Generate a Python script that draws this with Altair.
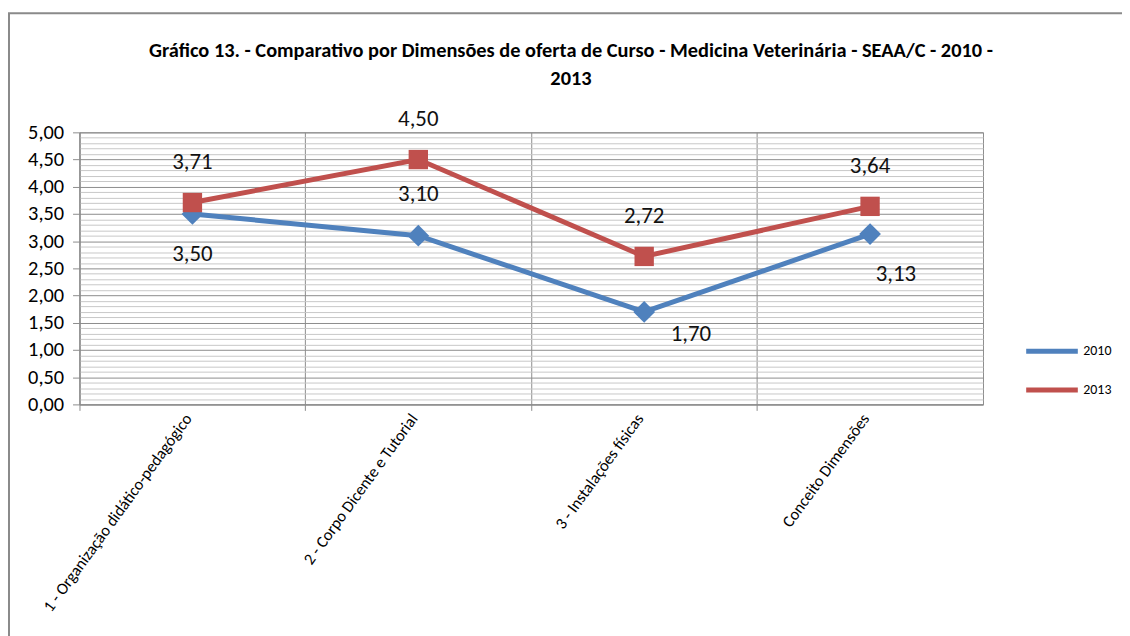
import altair as alt
import pandas as pd

categories = [
    "1 - Organização didático-pedagógico",
    "2 - Corpo Dicente e Tutorial",
    "3 - Instalações físicas",
    "Conceito Dimensões",
]
series = ["2010", "2013"]
values_2010 = [3.50, 3.10, 1.70, 3.13]
values_2013 = [3.71, 4.50, 2.72, 3.64]
y_ticks = [round(i * 0.1, 1) for i in range(51)]

title_lines = [
    "Gráfico 13. - Comparativo por Dimensões de oferta de Curso - Medicina Veterinária - SEAA/C - 2010 -",
    "2013",
]

rows = []
for name, vals in zip(series, [values_2010, values_2013]):
    for c, v in zip(categories, vals):
        rows.append({"cat": c, "series": name, "value": v,
                     "label": f"{v:.2f}".replace(".", ",")})
df = pd.DataFrame(rows)

FONT = "Carlito, Liberation Sans Narrow, DejaVu Sans Condensed, sans-serif"
W, H = 910, 274
GRID = "#8c8c8c"
MINOR = "#c8c8c8"
MINOR_TEST = "abs(datum.value * 2 - round(datum.value * 2)) > 0.01"

color_scale = alt.Scale(domain=series, range=["#4F81BD", "#C0504D"])
legend = alt.Legend(orient="none", legendX=951, legendY=192, title=None,
                    symbolType="stroke", symbolSize=2704, symbolStrokeWidth=5,
                    labelFontSize=14, labelFont=FONT, labelColor="#000000",
                    padding=0, rowPadding=0, labelOffset=3)

x_enc = alt.X("cat:N", sort=categories,
              scale=alt.Scale(type="band", paddingInner=0, paddingOuter=0),
              axis=alt.Axis(title=None, bandPosition=0,
                            labelAngle=-54, labelFontSize=16.5, labelFont=FONT,
                            labelColor="#000000", labelPadding=5, labelOffset=-4,
                            grid=True, gridColor=GRID, gridWidth=1,
                            tickColor=GRID, tickSize=6, domainColor=GRID,
                            labelLimit=400))
y_scale = alt.Scale(domain=[0, 5], nice=False)
y_enc = alt.Y("value:Q", scale=y_scale,
              axis=alt.Axis(title=None, values=y_ticks, orient="left",
                            labelExpr=f"({MINOR_TEST}) ? '' : replace(format(datum.value, '.2f'), '.', ',')",
                            labelFontSize=20.5, labelFont=FONT, labelColor="#000000",
                            labelPadding=9, grid=True,
                            gridColor={"condition": {"test": MINOR_TEST, "value": MINOR}, "value": GRID},
                            tickColor=GRID,
                            tickOpacity={"condition": {"test": MINOR_TEST, "value": 0}, "value": 1},
                            tickSize=7, domainColor=GRID))

base = alt.Chart(df)

lines = base.mark_line(strokeWidth=5).encode(
    x=x_enc, y=y_enc,
    color=alt.Color("series:N", scale=color_scale, legend=legend))

points_2010 = base.transform_filter("datum.series == '2010'").mark_point(
    filled=True, opacity=1, size=480, shape="diamond"
).encode(x=x_enc, y=y_enc,
         color=alt.Color("series:N", scale=color_scale, legend=legend))

points_2013 = base.transform_filter("datum.series == '2013'").mark_point(
    filled=True, opacity=1, size=380, shape="square"
).encode(x=x_enc, y=y_enc,
         color=alt.Color("series:N", scale=color_scale, legend=legend))

def label_layer(filter_expr, dx, dy):
    return base.transform_filter(filter_expr).mark_text(
        dx=dx, dy=dy, fontSize=23, font=FONT, color="#111111"
    ).encode(x=x_enc, y=y_enc, text="label:N")

labels = [
    label_layer("datum.series == '2013'", 0, -41),
    label_layer(f"datum.series == '2010' && datum.cat == '{categories[0]}'", 0, 40),
    label_layer(f"datum.series == '2010' && datum.cat == '{categories[1]}'", 0, -42),
    label_layer(f"datum.series == '2010' && datum.cat == '{categories[2]}'", 47, 22),
    label_layer(f"datum.series == '2010' && datum.cat == '{categories[3]}'", 26, 40),
]

frame = alt.Chart(pd.DataFrame({"f": [0]})).mark_rect(
    fillOpacity=0, stroke="#8a8a8a", strokeWidth=2
).encode(x=alt.value(-71), x2=alt.value(1100), y=alt.value(-120), y2=alt.value(600))

chart = alt.layer(lines, points_2010, points_2013, *labels, frame).properties(
    width=W, height=H,
    autosize=alt.AutoSizeParams(type="none"),
    padding={"left": 72, "top": 123, "right": 140, "bottom": 231},
    title=alt.TitleParams(title_lines, anchor="middle", frame="group", dx=40,
                          offset=-78, fontSize=20.5, font=FONT, fontWeight="bold",
                          color="#000000", lineHeight=28),
).configure_view(stroke=GRID, strokeWidth=1)

chart.save("out.html", embed_options={"renderer": "svg", "actions": False})
